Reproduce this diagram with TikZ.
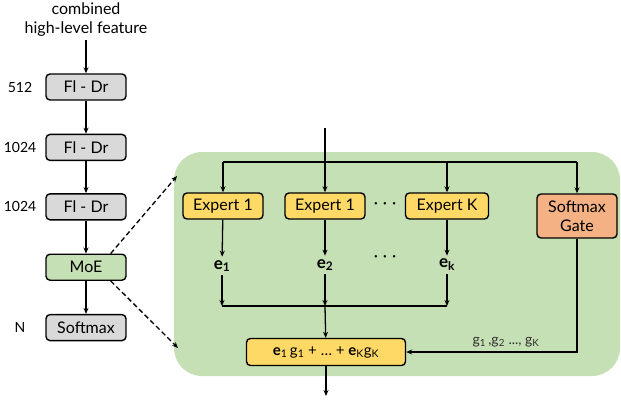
\documentclass[tikz,border=0pt]{standalone}
\usepackage{fontspec}
\setmainfont{Lato}
\usetikzlibrary{arrows.meta,positioning}
\definecolor{boxgray}{HTML}{D9D9D9}
\definecolor{moegreen}{HTML}{C5E0B4}
\definecolor{expyellow}{HTML}{FFD966}
\definecolor{gateorange}{HTML}{F4B183}
\definecolor{labelgray}{HTML}{303030}

\begin{document}
\begin{tikzpicture}[
  x=1pt, y=1pt,
  layer/.style={
    draw, line width=1.4pt, rounded corners=4pt, minimum width=80pt, minimum height=26pt,
    inner sep=0pt, font=\fontsize{16}{19}\selectfont, fill=boxgray,
  },
  expert/.style={layer, fill=expyellow},
  gatebox/.style={layer, fill=gateorange, minimum height=44pt, align=center},
  sumbox/.style={layer, fill=expyellow, minimum width=159pt, minimum height=27pt, font=\fontsize{15}{18}\selectfont},
  dimlabel/.style={font=\fontsize{14}{17}\selectfont},
  outlabel/.style={font=\fontsize{17}{20}\selectfont\bfseries},
  dotlabel/.style={font=\fontsize{16}{19}\selectfont},
  arrow/.style={-{Stealth[length=6pt,width=5pt]}, line width=1.3pt},
  dasharrow/.style={arrow, dash pattern=on 5pt off 3pt},
  wire/.style={line width=1.3pt},
]
\useasboundingbox (0,0) rectangle (621,-405);

% mixture-of-experts region
\fill[moegreen, rounded corners=28pt] (174,-152) rectangle (620,-376);

% left column
\node[align=center, font=\fontsize{16}{19}\selectfont] (feat) at (86,-20) {combined\\high-level feature};
\node[layer] (fd1) at (86,-87) {Fl - Dr};
\node[layer, below=33pt of fd1] (fd2) {Fl - Dr};
\node[layer, below=32pt of fd2] (fd3) {Fl - Dr};
\node[layer, below=33pt of fd3, fill=moegreen] (moe) {MoE};
\node[layer, below=33pt of moe] (soft) {Softmax};

\node[dimlabel] (d1) at (20,0 |- fd1) {512};
\node[dimlabel] (d2) at (20,0 |- fd2) {1024};
\node[dimlabel] (d3) at (20,0 |- fd3) {1024};
\node[dimlabel] (d4) at (20,0 |- soft) {N};

\draw[arrow] (feat) -- (fd1);
\draw[arrow] (fd1) -- (fd2);
\draw[arrow] (fd2) -- (fd3);
\draw[arrow] (fd3) -- (moe);
\draw[arrow] (moe) -- (soft);

% zoom-in lines
\coordinate (ztop) at (177,-176);
\coordinate (zbot) at (178,-348);
\draw[dasharrow] ([xshift=-16pt]moe.north east) -- (ztop);
\draw[dasharrow] ([xshift=-16pt]moe.south east) -- (zbot);

% experts and gate
\node[expert] (ex1) at (223,-206) {Expert 1};
\node[expert] (ex2) at (325,-206) {Expert 1};
\node[expert, minimum width=83pt] (exk) at (447,-206) {Expert K};
\node[gatebox] (gate) at (577,-216) {Softmax\\Gate};
\node[dotlabel] (dots1) at (385,-206) {·\hspace{5pt}·\hspace{5pt}·};

\coordinate (in) at (325,-128);
\coordinate (split) at (325,-162);
\draw[arrow] (in) -- (ex2);
\draw[wire] (ex1.north |- split) -- (gate.north |- split);
\draw[arrow] (ex1.north |- split) -- (ex1);
\draw[arrow] (exk.north |- split) -- (exk);
\draw[arrow] (gate.north |- split) -- (gate);

% expert outputs
\node[outlabel] (e1) at (222,-266) {e\textsubscript{1}};
\node[outlabel] (e2) at (325,-265) {e\textsubscript{2}};
\node[outlabel] (ek) at (447,-265) {e\textsubscript{k}};
\node[dotlabel] (dots2) at (385,-259) {·\hspace{5pt}·\hspace{5pt}·};

\draw[arrow] (ex1) -- (e1);
\draw[arrow] (ex2) -- (e2);
\draw[arrow] (exk) -- (ek);

\coordinate (merge) at (325,-306);
\draw[wire] (e1 |- merge) -- (ek |- merge);
\draw[arrow] (e1) -- (e1 |- merge);
\draw[arrow] (ek) -- (ek |- merge);
\draw[arrow] (e2) -- (merge);

% weighted sum
\node[sumbox] (sum) at (326,-352) {\textbf{e}\textsubscript{1}\,g\textsubscript{1} + \dots{} + \textbf{e}\textsubscript{K}g\textsubscript{K}};
\draw[arrow] (merge) -- (sum);
\draw[arrow] (gate) |- (sum);
\node[font=\fontsize{14}{17}\selectfont, text=labelgray] (glabel) at (506,-342) {g\textsubscript{1}\,,g\textsubscript{2} ..., g\textsubscript{K}};

\coordinate (out) at (326,-396);
\draw[arrow] (sum) -- (out);

\end{tikzpicture}
\end{document}
